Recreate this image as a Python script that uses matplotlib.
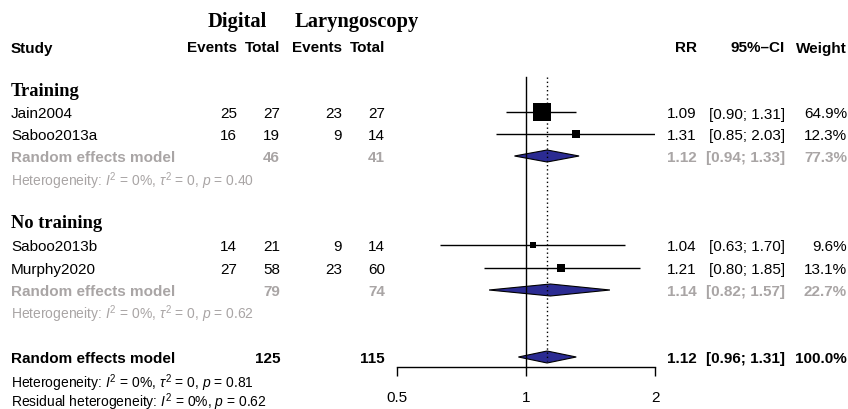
import matplotlib
matplotlib.use("Agg")
import matplotlib.pyplot as plt
from matplotlib.patches import Polygon
from matplotlib.transforms import blended_transform_factory
import numpy as np

# ---------------- data ----------------
studies = ["Jain2004", "Saboo2013a", "Saboo2013b", "Murphy2020"]
study_group = [0, 0, 1, 1]
events_dig = [25, 16, 14, 27]
total_dig = [27, 19, 21, 58]
events_lar = [23, 9, 9, 23]
total_lar = [27, 14, 14, 60]
rr = [1.09, 1.31, 1.04, 1.21]
ci_lo = [0.90, 0.85, 0.63, 0.80]
ci_hi = [1.31, 2.03, 1.70, 1.85]
weight = [64.9, 12.3, 9.6, 13.1]

groups = ["Training", "No training"]
grp_rr = [1.12, 1.14]
grp_lo = [0.94, 0.82]
grp_hi = [1.33, 1.57]
grp_w = [77.3, 22.7]
grp_total_dig = [46, 79]
grp_total_lar = [41, 74]
grp_i2 = ["0%", "0%"]
grp_tau2 = ["0", "0"]
grp_p = ["0.40", "0.62"]

all_rr, all_lo, all_hi, all_w = 1.12, 0.96, 1.31, 100.0
all_total_dig, all_total_lar = 125, 115
all_i2, all_tau2, all_p = "0%", "0", "0.81"
resid_i2, resid_p = "0%", "0.62"

xticks = [0.5, 1, 2]
xticklabels = ["0.5", "1", "2"]

# ---------------- style ----------------
W, H = 848, 410
GREY = "#A9A5A5"
DIAM = "#2B2B92"
SANS = "Liberation Sans"
SERIF = "Liberation Serif"
FS = 11
HFS = 10
plt.rcParams["font.family"] = [SANS, "DejaVu Sans"]
plt.rcParams["mathtext.fontset"] = "custom"
plt.rcParams["mathtext.rm"] = SANS
plt.rcParams["mathtext.it"] = SANS + ":italic"
plt.rcParams["mathtext.bf"] = SANS + ":bold"

fig = plt.figure(figsize=(W / 100, H / 100), dpi=100)
x0, x1 = 397, 655
ax = fig.add_axes([x0 / W, 0, (x1 - x0) / W, 1])
ax.set_xscale("log")
ax.set_xlim(0.5, 2)
ax.set_ylim(H, 0)
for s in ["left", "right", "top"]:
    ax.spines[s].set_visible(False)
ax.spines["bottom"].set_position(("data", 368))
ax.spines["bottom"].set_linewidth(1.0)
ax.xaxis.set_minor_locator(matplotlib.ticker.NullLocator())
ax.set_xticks(xticks)
ax.set_xticklabels(xticklabels)
ax.tick_params(axis="x", direction="out", length=6.5, width=1.0,
               labelsize=FS, pad=10)
ax.set_yticks([])
ax.patch.set_alpha(0)

tr = blended_transform_factory(fig.transFigure, ax.transData)


def txt(px, y, s, ha="left", color="black", weight="normal", size=FS,
        family=None):
    fam = family if family else [SANS, "DejaVu Sans"]
    fig.text(px / W, y, s, transform=tr, ha=ha, va="center_baseline",
             color=color, fontweight=weight, fontsize=size, family=fam)


def diamond(est, lo, hi, y, h=6.0):
    poly = Polygon([[lo, y], [est, y - h], [hi, y], [est, y + h]],
                   closed=True, facecolor=DIAM, edgecolor="black",
                   linewidth=0.8, zorder=3)
    ax.add_patch(poly)


# column x positions (pixels)
C_STUDY = 11
C_EV1, C_TOT1, C_EV2, C_TOT2 = 237, 280, 342, 385
C_RR, C_CI, C_W = 697, 785, 847

# headers
txt(208, 19, "Digital", weight="bold", size=14.8, family=[SERIF])
txt(295, 19, "Laryngoscopy", weight="bold", size=14.8, family=[SERIF])
txt(C_STUDY, 47, "Study", weight="bold")
txt(C_EV1, 47, "Events", ha="right", weight="bold")
txt(C_TOT1, 47, "Total", ha="right", weight="bold")
txt(C_EV2, 47, "Events", ha="right", weight="bold")
txt(C_TOT2, 47, "Total", ha="right", weight="bold")
txt(C_RR, 47, "RR", ha="right", weight="bold")
txt(C_CI, 47, "95%\u2013CI", ha="right", weight="bold")
txt(C_W, 47, "Weight", ha="right", weight="bold")

# row layout
grp_title_y = [89, 222]
study_y = [113, 135, 246, 269]
grp_re_y = [157, 291]
grp_het_y = [178, 311]
all_y, all_het_y, resid_y = 358, 380, 399

REF_SIDE = 18 * 0.72  # marker side (pt) for the largest weight

for g, name in enumerate(groups):
    txt(C_STUDY, grp_title_y[g], name, weight="bold", size=13.3,
        family=[SERIF])

for i, name in enumerate(studies):
    y = study_y[i]
    txt(C_STUDY, y, name)
    txt(C_EV1, y, str(events_dig[i]), ha="right")
    txt(C_TOT1, y, str(total_dig[i]), ha="right")
    txt(C_EV2, y, str(events_lar[i]), ha="right")
    txt(C_TOT2, y, str(total_lar[i]), ha="right")
    txt(C_RR, y, f"{rr[i]:.2f}", ha="right")
    txt(C_CI, y, f"[{ci_lo[i]:.2f}; {ci_hi[i]:.2f}]", ha="right")
    txt(C_W, y, f"{weight[i]:.1f}%", ha="right")
    ax.plot([ci_lo[i], ci_hi[i]], [y, y], color="black", lw=1.0,
            zorder=2, solid_capstyle="butt")
    ms = REF_SIDE * np.sqrt(weight[i] / max(weight))
    ax.plot([rr[i]], [y], marker="s", ms=ms, color="black",
            markeredgewidth=0, zorder=4)

for g in range(len(groups)):
    y = grp_re_y[g]
    txt(C_STUDY, y, "Random effects model", color=GREY, weight="bold")
    txt(C_TOT1, y, str(grp_total_dig[g]), ha="right", color=GREY,
        weight="bold")
    txt(C_TOT2, y, str(grp_total_lar[g]), ha="right", color=GREY,
        weight="bold")
    txt(C_RR, y, f"{grp_rr[g]:.2f}", ha="right", color=GREY, weight="bold")
    txt(C_CI, y, f"[{grp_lo[g]:.2f}; {grp_hi[g]:.2f}]", ha="right",
        color=GREY, weight="bold")
    txt(C_W, y, f"{grp_w[g]:.1f}%", ha="right", color=GREY, weight="bold")
    diamond(grp_rr[g], grp_lo[g], grp_hi[g], y)
    txt(C_STUDY, grp_het_y[g],
        "Heterogeneity: $I^2$ = " + grp_i2[g] + r", $\tau^2$ = "
        + grp_tau2[g] + ", $p$ = " + grp_p[g], color=GREY, size=HFS)

# overall
txt(C_STUDY, all_y, "Random effects model", weight="bold")
txt(C_TOT1, all_y, str(all_total_dig), ha="right", weight="bold")
txt(C_TOT2, all_y, str(all_total_lar), ha="right", weight="bold")
txt(C_RR, all_y, f"{all_rr:.2f}", ha="right", weight="bold")
txt(C_CI, all_y, f"[{all_lo:.2f}; {all_hi:.2f}]", ha="right", weight="bold")
txt(C_W, all_y, f"{all_w:.1f}%", ha="right", weight="bold")
diamond(all_rr, all_lo, all_hi, all_y)
txt(C_STUDY, all_het_y,
    "Heterogeneity: $I^2$ = " + all_i2 + r", $\tau^2$ = " + all_tau2
    + ", $p$ = " + all_p, size=HFS)
txt(C_STUDY, resid_y,
    "Residual heterogeneity: $I^2$ = " + resid_i2 + ", $p$ = " + resid_p,
    size=HFS)

# reference lines
ax.plot([1, 1], [78, 368], color="black", lw=1.0, zorder=5)
ax.plot([all_rr, all_rr], [78, 362], color="black", lw=1.0,
        linestyle=(0, (1, 2)), zorder=5)

fig.savefig("out.png", dpi=100)
